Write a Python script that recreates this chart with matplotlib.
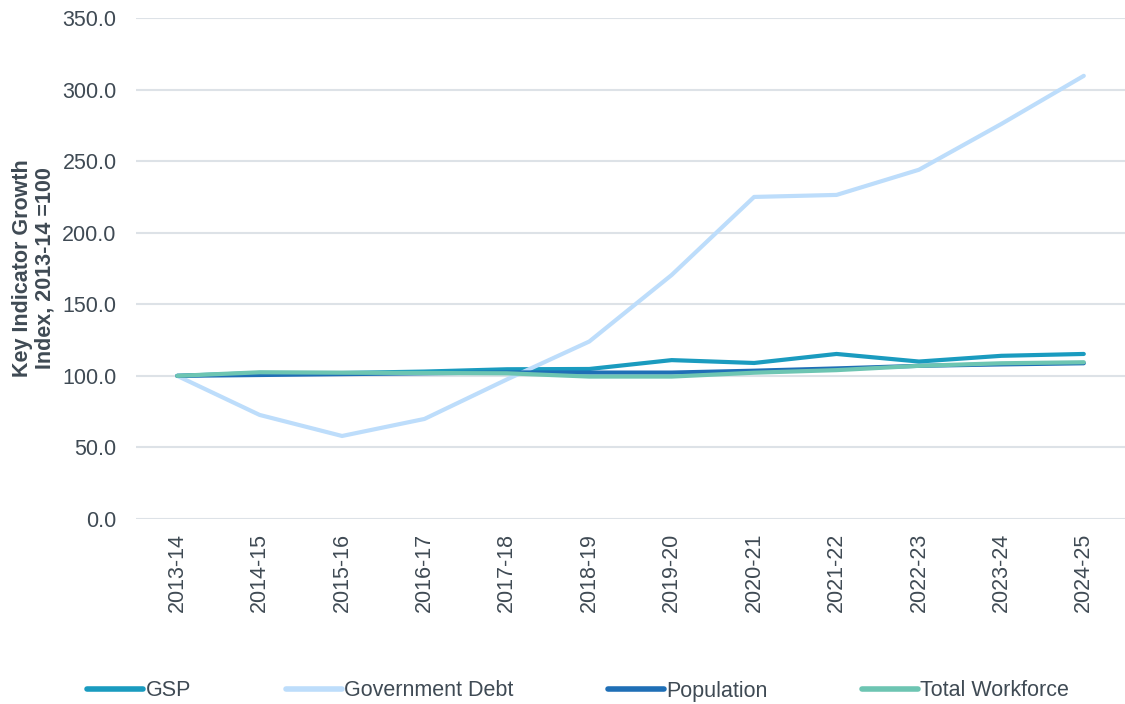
import matplotlib
matplotlib.use("Agg")
import matplotlib.pyplot as plt

years = ["2013-14", "2014-15", "2015-16", "2016-17", "2017-18", "2018-19",
         "2019-20", "2020-21", "2021-22", "2022-23", "2023-24", "2024-25"]
gsp = [100.0, 102.0, 102.0, 103.0, 104.6, 104.8, 111.0, 109.0, 115.3, 110.0, 114.0, 115.3]
gov_debt = [100.0, 72.7, 58.0, 69.9, 97.5, 124.0, 170.5, 225.0, 226.4, 244.0, 276.0, 309.6]
population = [100.0, 100.6, 101.2, 101.8, 102.4, 102.3, 102.3, 103.6, 105.2, 107.0, 108.0, 108.8]
workforce = [100.0, 102.5, 102.2, 102.0, 101.8, 99.5, 99.5, 102.2, 104.0, 107.0, 108.8, 109.5]

y_ticks = [0, 50, 100, 150, 200, 250, 300, 350]

text_color = "#3F4A54"
grid_color = "#DDE2E7"

plt.rcParams["font.family"] = ["Liberation Sans", "DejaVu Sans"]

fig = plt.figure(figsize=(11.25, 7.04), dpi=100)
ax = fig.add_axes([136 / 1125, 1 - 519 / 704, 1 - 136 / 1125, (519 - 18) / 704])

x = list(range(len(years)))
lw = 3.0
series = [
    ("GSP", gsp, "#1A9BBF"),
    ("Government Debt", gov_debt, "#BDDDFB"),
    ("Population", population, "#1F6FB6"),
    ("Total Workforce", workforce, "#6DC5B2"),
]
handles = []
for name, vals, col in series:
    (h,) = ax.plot(x, vals, color=col, lw=lw, solid_capstyle="round",
                   solid_joinstyle="round", label=name, zorder=3)
    handles.append(h)

fs = 15.5
ax.set_xlim(-0.5, len(years) - 0.5)
ax.set_ylim(0, 350)
ax.set_yticks(y_ticks)
ax.set_yticklabels([f"{v:.1f}" for v in y_ticks])
ax.set_xticks(x)
ax.set_xticklabels(years, rotation=90)
ax.grid(axis="y", color=grid_color, lw=1.5, zorder=0)
ax.set_axisbelow(True)
for s in ax.spines.values():
    s.set_visible(False)
ax.tick_params(axis="both", length=0, labelsize=fs, colors=text_color)
ax.tick_params(axis="y", pad=14)
ax.tick_params(axis="x", pad=10)

ax.set_ylabel("Key Indicator Growth\nIndex, 2013-14 =100", fontsize=fs,
              fontweight="bold", color=text_color, linespacing=1.1)
ax.yaxis.set_label_coords(-0.081, 0.5)

leg = fig.legend(handles=handles, loc="center", bbox_to_anchor=(0.514, 1 - 691 / 704),
                 ncol=4, frameon=False, fontsize=fs, handlelength=2.6,
                 handletextpad=0.1, columnspacing=4.4)
for t in leg.get_texts():
    t.set_color(text_color)
for lh in leg.get_lines():
    lh.set_linewidth(4)
    lh.set_solid_capstyle("round")

fig.savefig("out.png", dpi=100)
